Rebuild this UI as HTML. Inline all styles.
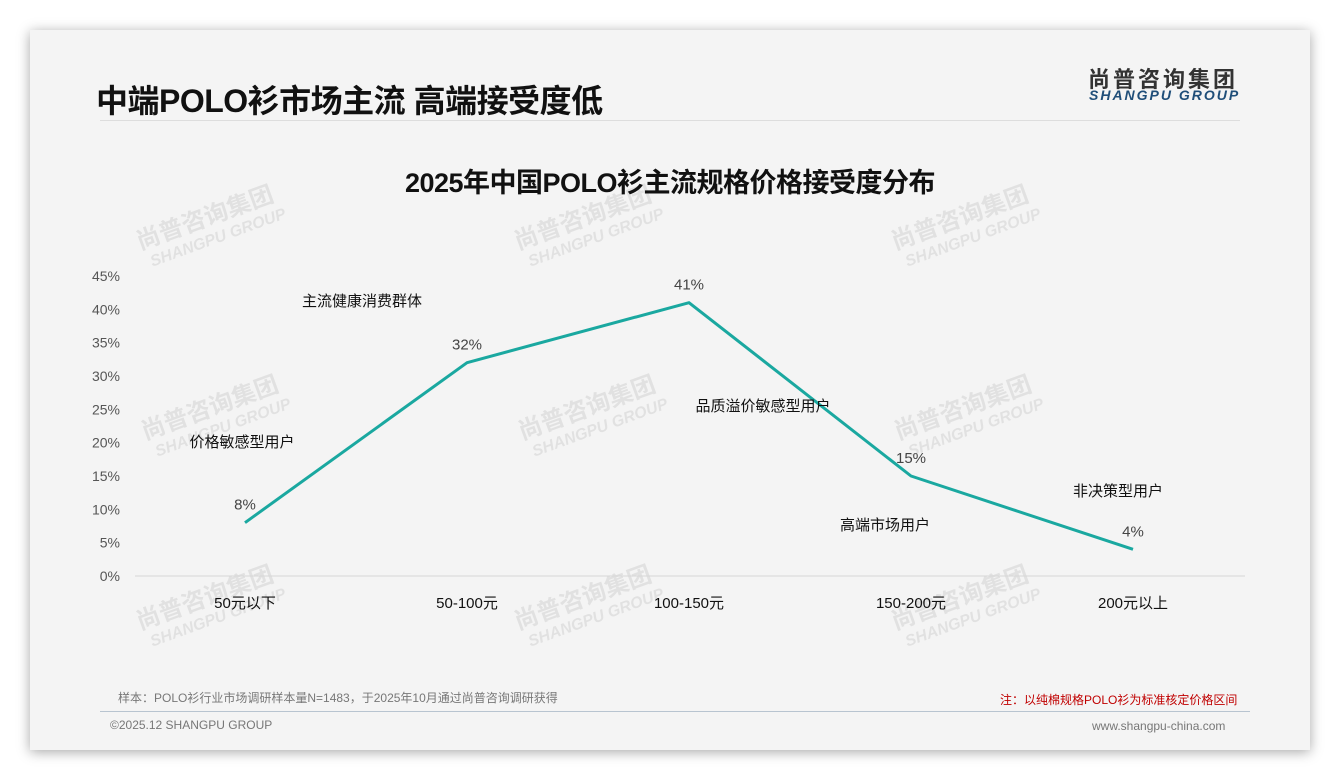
<!DOCTYPE html>
<html><head><meta charset="utf-8"><style>
body{margin:0;width:1340px;height:780px;background:#fff;position:relative;overflow:hidden;font-family:"Liberation Sans","Noto Sans CJK SC",sans-serif;}
#card{position:absolute;left:30px;top:30px;width:1280px;height:720px;background:#f4f4f4;box-shadow:0 2px 12px rgba(0,0,0,0.35);}
.t{position:absolute;white-space:nowrap;}
</style></head><body>
<div id="card"></div>
<div class="t" style="left:96px;top:76px;font-size:32px;font-weight:bold;color:#111;letter-spacing:-0.5px;">中端POLO衫市场主流 高端接受度低</div>
<div class="t" style="left:1088px;top:62px;font-size:22px;font-weight:bold;color:#333;letter-spacing:3px;">尚普咨询集团</div>
<div class="t" style="left:1089px;top:87px;font-size:14px;font-weight:bold;font-style:italic;color:#1f4e79;letter-spacing:2px;">SHANGPU GROUP</div>
<div style="position:absolute;left:100px;top:120px;width:1140px;height:1px;background:#ddd;"></div>
<div class="t" style="left:0;width:1340px;text-align:center;top:161px;font-size:27px;font-weight:bold;color:#111;letter-spacing:-0.5px;">2025年中国POLO衫主流规格价格接受度分布</div>
<svg id="chart" width="1340" height="780" style="position:absolute;left:0;top:0"></svg>
<div class="t" style="left:118px;top:689px;font-size:12px;color:#777;">样本：POLO衫行业市场调研样本量N=1483，于2025年10月通过尚普咨询调研获得</div>
<div class="t" style="left:1000px;top:691px;font-size:12px;color:#c00000;">注：以纯棉规格POLO衫为标准核定价格区间</div>
<div style="position:absolute;left:100px;top:711px;width:1150px;height:1px;background:#b8c4d0;"></div>
<div class="t" style="left:110px;top:718px;font-size:12px;color:#777;">©2025.12 SHANGPU GROUP</div>
<div class="t" style="left:1092px;top:719px;font-size:12px;color:#777;">www.shangpu-china.com</div>
<script>
const categories=["50元以下","50-100元","100-150元","150-200元","200元以上"];
const values=[8,32,41,15,4];
const yTicks=[0,5,10,15,20,25,30,35,40,45];
const notes=["价格敏感型用户","主流健康消费群体","品质溢价敏感型用户","高端市场用户","非决策型用户"];
const noteY=[20.1,41.25,25.5,7.65,12.75];
const noteDx=[-3,-105,74,-26,-15];
const svg=document.getElementById('chart');
const NS='http://www.w3.org/2000/svg';
const y0=576,pxPer=300/45;
const x=i=>245+i*222;
const y=v=>y0-v*pxPer;
function mk(tag,attrs,txt){const e=document.createElementNS(NS,tag);for(const k in attrs)e.setAttribute(k,attrs[k]);if(txt!==undefined)e.textContent=txt;svg.appendChild(e);return e;}
[[140,250],[518,250],[895,250],[145,440],[522,440],[898,440],[140,630],[518,630],[895,630]].forEach(p=>{
 const g=document.createElementNS(NS,'g');g.setAttribute('transform',`translate(${p[0]},${p[1]}) rotate(-20)`);g.setAttribute('opacity','0.07');
 
 
 g.innerHTML='<text x="0" y="0" font-size="24" font-weight="bold" font-family="Noto Sans CJK SC,sans-serif" fill="#000">尚普咨询集团</text><text x="6" y="20" font-size="16" font-weight="bold" font-style="italic" font-family="Liberation Sans,sans-serif" fill="#000">SHANGPU GROUP</text>';
 svg.appendChild(g);});
const ax=mk('line',{x1:135,x2:1245,y1:y0,y2:y0,stroke:'#d6d6d6','stroke-width':1});


yTicks.forEach(t=>{const e=mk('text',{x:120,y:y(t)+5,'text-anchor':'end','font-size':14,fill:'#555'},t+'%');
 
 });
categories.forEach((c,i)=>{const e=mk('text',{x:x(i),y:608,'text-anchor':'middle','font-size':15,fill:'#111','font-family':'Liberation Sans,Noto Sans CJK SC,sans-serif'},c);
 
 });
const ln=mk('polyline',{points:values.map((v,i)=>x(i)+','+y(v)).join(' '),fill:'none',stroke:'#1aa8a0','stroke-width':3,'stroke-linejoin':'round'});


values.forEach((v,i)=>{const e=mk('text',{x:x(i),y:y(v)-13,'text-anchor':'middle','font-size':15,fill:'#444'},v+'%');
 
 });
notes.forEach((n,i)=>{const e=mk('text',{x:x(i)+noteDx[i],y:y(noteY[i])+5,'text-anchor':'middle','font-size':15,fill:'#111','font-family':'Noto Sans CJK SC,sans-serif'},n);
 
 });
</script>
</body></html>
